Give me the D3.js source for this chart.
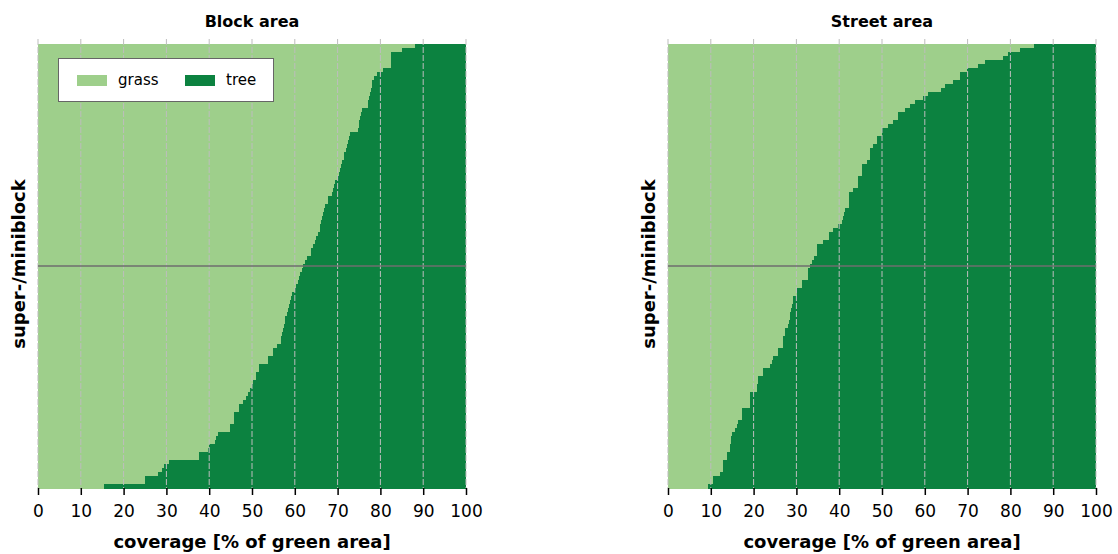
<!DOCTYPE html>
<html><head><meta charset="utf-8">
<script src="https://cdn.jsdelivr.net/npm/d3@7"></script>
<style>body{margin:0;background:#fff}svg{display:block;font-family:"DejaVu Sans",sans-serif}</style>
</head><body><svg id="c" width="1118" height="554"></svg>
<script>
// grass share (% of green area) per super-/miniblock, top row first; tree = 100 - grass
const blockGrass = [88.1,85.0,82.4,82.4,82.4,82.4,80.5,79.1,78.6,78.1,78.0,77.8,77.6,77.4,77.2,77.0,75.6,75.5,75.3,75.1,74.9,74.8,72.9,72.7,72.4,72.2,71.9,71.6,71.4,71.1,70.9,70.6,70.4,70.2,69.4,69.2,69.0,68.6,67.8,67.8,67.1,66.9,66.6,66.4,66.2,66.0,65.9,65.4,65.0,64.7,64.3,63.9,63.9,62.8,62.4,62.0,61.6,61.3,61.0,60.7,60.3,60.0,59.3,59.1,58.9,58.7,58.5,58.1,57.8,57.6,57.4,57.2,57.0,56.8,56.7,55.8,55.0,55.0,53.8,53.8,51.7,51.7,50.9,50.9,50.2,49.9,49.5,49.1,48.5,48.0,47.0,47.0,45.8,45.8,45.8,44.9,44.9,42.1,41.6,41.4,40.0,39.8,37.5,37.5,30.5,29.5,28.9,28.1,25.0,25.0,15.5];
const streetGrass = [85.5,82.2,79.5,78.3,74.1,72.5,69.8,68.2,68.2,66.7,64.7,63.9,60.8,59.6,57.7,56.5,55.4,53.8,53.8,52.6,51.5,49.9,49.9,48.8,48.8,48.0,47.2,47.2,47.2,46.4,45.3,45.3,45.3,44.5,44.5,44.5,43.3,42.4,42.4,42.4,42.4,41.4,41.2,40.9,40.6,39.8,38.6,37.5,37.5,36.3,34.7,34.7,34.7,34.0,33.6,33.2,32.8,32.8,32.8,31.2,31.2,30.1,30.1,29.3,29.1,28.9,28.7,28.6,28.4,28.2,28.1,27.3,27.3,26.9,26.9,26.9,25.8,25.8,24.6,24.2,23.8,22.3,22.3,21.1,21.1,20.7,20.7,19.2,19.2,19.2,19.2,17.2,17.2,17.2,16.4,16.1,15.7,14.9,14.8,14.7,14.6,14.5,13.7,13.7,12.9,12.9,12.9,12.1,10.6,10.6,9.4];
const panelTitles = ["Block area", "Street area"];
const seriesNames = ["grass", "tree"];
const xTicks = [0,10,20,30,40,50,60,70,80,90,100];
const xLabel = "coverage [% of green area]";
const yLabel = "super-/miniblock";

const colors = {grass: "#9ecf8b", tree: "#0c8240"};
const svg = d3.select("#c");
const W = 428, H = 444, topY = 44;
const lefts = [38, 668];
const panels = [blockGrass, streetGrass];

panels.forEach((data, p) => {
  const g = svg.append("g").attr("transform", `translate(${lefts[p]},${topY})`);
  const x = d3.scaleLinear().domain([0, 100]).range([0, W]);
  const y = d3.scaleBand().domain(d3.range(data.length)).range([0, H]).paddingInner(0);
  const rows = g.append("g").attr("shape-rendering", "crispEdges");
  rows.selectAll("rect.grass").data(data).join("rect").attr("class", "grass")
    .attr("x", x(0)).attr("y", (d, i) => y(i)).attr("height", y.bandwidth() + 0.5)
    .attr("width", d => x(d) - x(0)).attr("fill", colors.grass);
  rows.selectAll("rect.tree").data(data).join("rect").attr("class", "tree")
    .attr("x", d => x(d)).attr("y", (d, i) => y(i)).attr("height", y.bandwidth() + 0.5)
    .attr("width", d => x(100) - x(d)).attr("fill", colors.tree);

  // vertical gridlines
  g.append("g").selectAll("line").data(xTicks).join("line")
    .attr("x1", d => x(d)).attr("x2", d => x(d)).attr("y1", -5).attr("y2", H)
    .attr("stroke", "#bdbdbd").attr("stroke-width", 1).attr("stroke-dasharray", "6,2");

  // midline
  g.append("line").attr("x1", 0).attr("x2", W).attr("y1", H / 2).attr("y2", H / 2)
    .attr("stroke", "#6e6e6e").attr("stroke-width", 1.5);

  // x axis
  const ax = g.append("g").attr("transform", `translate(0,${H})`)
    .call(d3.axisBottom(x).tickValues(xTicks).tickSize(7).tickPadding(10).tickFormat(d3.format("d")));
  ax.select(".domain").remove();
  ax.selectAll(".tick line").attr("stroke", "#000").attr("stroke-width", 1.5);
  ax.selectAll(".tick text").attr("font-size", 17).attr("fill", "#000").attr("font-family", "DejaVu Sans");

  g.append("text").attr("x", W / 2).attr("y", H + 60)
    .attr("text-anchor", "middle").attr("font-weight", "bold").attr("font-size", 18)
    .text(xLabel);

  g.append("text").attr("transform", `translate(${-19},${H / 2 - 2}) rotate(-90)`)
    .attr("text-anchor", "middle").attr("font-weight", "bold").attr("font-size", 18)
    .attr("dy", "0.35em").text(yLabel);

  g.append("text").attr("x", W / 2).attr("y", -17).attr("text-anchor", "middle")
    .attr("font-weight", "bold").attr("font-size", 16).text(panelTitles[p]);

  if (p === 0) {
    const lg = g.append("g").attr("transform", "translate(20,14)");
    lg.append("rect").attr("x", 0.5).attr("y", 0.5).attr("width", 215).attr("height", 43)
      .attr("fill", "#fff").attr("stroke", "#666").attr("stroke-width", 1);
    const lx = [19, 127];
    seriesNames.forEach((s, k) => {
      lg.append("rect").attr("x", lx[k]).attr("y", 17).attr("width", 30).attr("height", 11).attr("fill", colors[s]);
      lg.append("text").attr("x", lx[k] + 41).attr("y", 22).attr("dy", "0.35em")
        .attr("font-size", 15).text(s);
    });
  }
});
</script></body></html>
